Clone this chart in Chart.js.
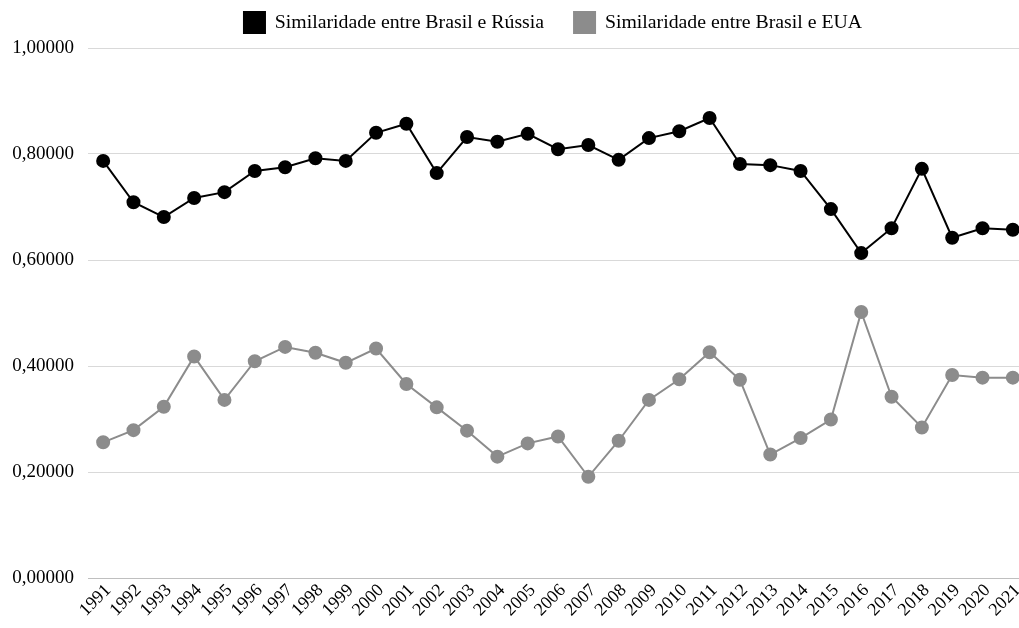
<!DOCTYPE html>
<html>
<head>
<meta charset="utf-8">
<script src="https://cdn.jsdelivr.net/npm/chart.js@4.4.0/dist/chart.umd.min.js"></script>
<style>
    html, body { margin: 0; padding: 0; background: #fff; overflow: hidden; }
    #wrap { position: relative; width: 1036px; height: 628px; }
</style>
</head>
<body>
<div id="wrap"><canvas id="grafico"></canvas></div>
<script>
var anos = ['1991', '1992', '1993', '1994', '1995', '1996', '1997', '1998', '1999', '2000',
    '2001', '2002', '2003', '2004', '2005', '2006', '2007', '2008', '2009', '2010',
    '2011', '2012', '2013', '2014', '2015', '2016', '2017', '2018', '2019', '2020', '2021'];

var brasilRussia = [0.787, 0.709, 0.681, 0.717, 0.728, 0.768, 0.775, 0.792, 0.787, 0.840,
    0.857, 0.764, 0.832, 0.823, 0.838, 0.809, 0.817, 0.789, 0.830, 0.843,
    0.868, 0.781, 0.779, 0.768, 0.696, 0.613, 0.660, 0.772, 0.642, 0.660, 0.657];

var brasilEua = [0.256, 0.279, 0.323, 0.418, 0.336, 0.409, 0.436, 0.425, 0.406, 0.433,
    0.366, 0.322, 0.278, 0.229, 0.254, 0.267, 0.191, 0.259, 0.336, 0.375,
    0.426, 0.374, 0.233, 0.264, 0.299, 0.502, 0.342, 0.284, 0.383, 0.378, 0.378];

var rotulos = ['Similaridade entre Brasil e Rússia', 'Similaridade entre Brasil e EUA'];
var yTicks = [0, 0.2, 0.4, 0.6, 0.8, 1.0];

var fonte = '"Liberation Serif", "Times New Roman", serif';

// legend height fix + nudge to the right like the original
var legendaAjuste = {
    id: 'legendaAjuste',
    beforeInit: function (chart) {
        if (!chart.legend) return;
        var fit = chart.legend.fit;
        chart.legend.fit = function () {
            fit.bind(chart.legend)();
            this.height = 66;
        };
    },
    afterLayout: function (chart) {
        if (!chart.legend) return;
        chart.legend.left += 35;
        chart.legend.right += 35;
    }
};

new Chart(document.getElementById('grafico'), {
    type: 'line',
    data: {
        labels: anos,
        datasets: [{
            label: rotulos[0],
            data: brasilRussia,
            borderColor: '#000000',
            backgroundColor: '#000000',
            borderWidth: 2,
            pointRadius: 6,
            pointHoverRadius: 6,
            tension: 0
        }, {
            label: rotulos[1],
            data: brasilEua,
            borderColor: '#8c8c8c',
            backgroundColor: '#8c8c8c',
            borderWidth: 2,
            pointRadius: 6,
            pointHoverRadius: 6,
            tension: 0
        }]
    },
    options: {
        responsive: true,
        maintainAspectRatio: false,
        animation: false,
        layout: { padding: { top: -18, left: 0, right: 0, bottom: 0 } },
        plugins: {
            legend: {
                position: 'top',
                labels: {
                    color: '#000',
                    font: { family: fonte, size: 19.8 },
                    boxWidth: 21,
                    boxHeight: 21,
                    padding: 30
                }
            },
            tooltip: { enabled: false }
        },
        scales: {
            x: {
                offset: true,
                grid: { display: false, drawTicks: false },
                border: { display: false },
                ticks: {
                    color: '#000',
                    font: { family: fonte, size: 18 },
                    minRotation: 45,
                    maxRotation: 45,
                    autoSkip: false,
                    padding: 2,
                    labelOffset: 5
                },
                afterFit: function (scale) { scale.height = 50; }
            },
            y: {
                min: 0,
                max: 1,
                afterBuildTicks: function (scale) {
                    scale.ticks = yTicks.map(function (v) { return { value: v }; });
                },
                grid: {
                    color: function (ctx) { return ctx.tick.value === 0 ? '#bfbfbf' : '#d9d9d9'; },
                    lineWidth: 1,
                    drawTicks: false
                },
                border: { display: false },
                ticks: {
                    color: '#000',
                    font: { family: fonte, size: 19 },
                    padding: 14,
                    callback: function (v) { return Number(v).toFixed(5).replace('.', ','); }
                },
                afterFit: function (scale) { scale.width = 88; }
            }
        }
    },
    plugins: [legendaAjuste]
});
</script>
</body>
</html>
